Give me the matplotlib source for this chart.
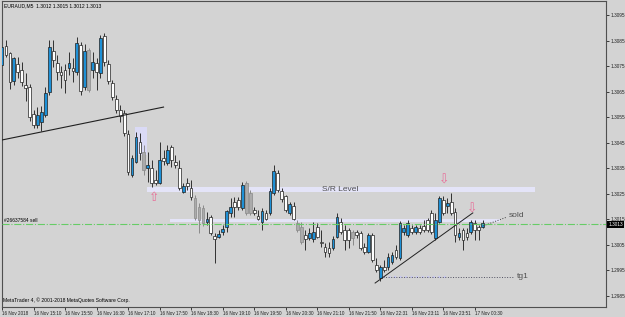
import matplotlib.pyplot as plt
import numpy as np
from matplotlib.patches import Rectangle
import matplotlib.transforms as mtransforms

plt.rcParams['font.family'] = ['Liberation Sans', 'DejaVu Sans']

# EURAUD M5 candles
opens = [1.30754, 1.30828, 1.30801, 1.30691, 1.30758, 1.30734, 1.30675, 1.30667, 1.30562, 1.30518,
         1.30530, 1.30558, 1.30648, 1.30809, 1.30762, 1.30726, 1.30734, 1.30742, 1.30742, 1.30726,
         1.30832, 1.30667, 1.30812, 1.30734, 1.30762, 1.30722, 1.30867, 1.30758, 1.30683, 1.30620,
         1.30577, 1.30566, 1.30483, 1.30322, 1.30373, 1.30452, 1.30413, 1.30350, 1.30350, 1.30303,
         1.30291, 1.30389, 1.30370, 1.30432, 1.30373, 1.30350, 1.30256, 1.30291, 1.30272, 1.30232,
         1.30197, 1.30193, 1.30138, 1.30158, 1.30083, 1.30079, 1.30099, 1.30119, 1.30174, 1.30217,
         1.30224, 1.30193, 1.30291, 1.30252, 1.30185, 1.30162, 1.30138, 1.30174, 1.30174, 1.30252,
         1.30330, 1.30260, 1.30240, 1.30174, 1.30201, 1.30134, 1.30119, 1.30087, 1.30076, 1.30072,
         1.30119, 1.30060, 1.30040, 1.30036, 1.30036, 1.30079, 1.30138, 1.30107, 1.30107, 1.30099,
         1.30099, 1.30095, 1.30040, 1.30021, 1.30087, 1.29970, 1.29919, 1.29962, 1.29962, 1.29981,
         1.30029, 1.29997, 1.30099, 1.30087, 1.30115, 1.30099, 1.30115, 1.30123, 1.30146, 1.30174,
         1.30076, 1.30138, 1.30224, 1.30201, 1.30217, 1.30177, 1.30079, 1.30107, 1.30095, 1.30099,
         1.30134, 1.30119, 1.30119]
highs = [1.30852, 1.30852, 1.30805, 1.30785, 1.30785, 1.30765, 1.30722, 1.30679, 1.30577, 1.30589,
         1.30593, 1.30667, 1.30852, 1.30852, 1.30793, 1.30750, 1.30758, 1.30805, 1.30781, 1.30863,
         1.30844, 1.30836, 1.30820, 1.30805, 1.30781, 1.30871, 1.30879, 1.30773, 1.30695, 1.30636,
         1.30597, 1.30577, 1.30499, 1.30401, 1.30491, 1.30487, 1.30440, 1.30413, 1.30381, 1.30342,
         1.30452, 1.30420, 1.30440, 1.30440, 1.30401, 1.30381, 1.30291, 1.30311, 1.30303, 1.30244,
         1.30213, 1.30205, 1.30177, 1.30166, 1.30095, 1.30107, 1.30127, 1.30185, 1.30232, 1.30236,
         1.30236, 1.30295, 1.30299, 1.30264, 1.30197, 1.30185, 1.30193, 1.30185, 1.30272, 1.30362,
         1.30342, 1.30272, 1.30244, 1.30217, 1.30217, 1.30146, 1.30138, 1.30107, 1.30115, 1.30138,
         1.30134, 1.30107, 1.30056, 1.30060, 1.30083, 1.30174, 1.30154, 1.30127, 1.30115, 1.30107,
         1.30107, 1.30103, 1.30056, 1.30095, 1.30095, 1.29997, 1.29970, 1.29989, 1.30017, 1.30021,
         1.30048, 1.30142, 1.30127, 1.30146, 1.30127, 1.30127, 1.30127, 1.30146, 1.30154, 1.30185,
         1.30174, 1.30240, 1.30240, 1.30232, 1.30252, 1.30193, 1.30115, 1.30115, 1.30115, 1.30146,
         1.30146, 1.30127, 1.30146]
lows = [1.30750, 1.30785, 1.30660, 1.30675, 1.30703, 1.30671, 1.30613, 1.30534, 1.30507, 1.30507,
        1.30495, 1.30550, 1.30636, 1.30746, 1.30695, 1.30664, 1.30644, 1.30715, 1.30687, 1.30715,
        1.30636, 1.30656, 1.30648, 1.30703, 1.30656, 1.30703, 1.30750, 1.30679, 1.30617, 1.30566,
        1.30530, 1.30475, 1.30322, 1.30315, 1.30370, 1.30381, 1.30322, 1.30295, 1.30275, 1.30283,
        1.30287, 1.30362, 1.30362, 1.30354, 1.30350, 1.30264, 1.30252, 1.30264, 1.30224, 1.30146,
        1.30095, 1.30123, 1.30127, 1.30087, 1.29978, 1.30076, 1.30087, 1.30099, 1.30158, 1.30158,
        1.30185, 1.30185, 1.30166, 1.30166, 1.30166, 1.30146, 1.30107, 1.30146, 1.30166, 1.30244,
        1.30256, 1.30217, 1.30177, 1.30166, 1.30146, 1.30099, 1.30052, 1.30029, 1.30068, 1.30060,
        1.30076, 1.30040, 1.30001, 1.30001, 1.30029, 1.30076, 1.30091, 1.30029, 1.30036, 1.30048,
        1.30076, 1.30029, 1.30013, 1.30017, 1.29981, 1.29942, 1.29907, 1.29942, 1.29950, 1.29974,
        1.29993, 1.29989, 1.30087, 1.30079, 1.30091, 1.30091, 1.30091, 1.30099, 1.30099, 1.30091,
        1.30068, 1.30134, 1.30166, 1.30174, 1.30166, 1.30060, 1.30068, 1.30029, 1.30068, 1.30091,
        1.30068, 1.30068, 1.30115]
closes = [1.30824, 1.30793, 1.30687, 1.30781, 1.30726, 1.30687, 1.30664, 1.30550, 1.30518, 1.30558,
          1.30569, 1.30644, 1.30824, 1.30773, 1.30726, 1.30715, 1.30695, 1.30762, 1.30730, 1.30840,
          1.30652, 1.30809, 1.30656, 1.30765, 1.30726, 1.30860, 1.30765, 1.30691, 1.30628, 1.30577,
          1.30554, 1.30487, 1.30334, 1.30389, 1.30471, 1.30409, 1.30342, 1.30362, 1.30291, 1.30291,
          1.30381, 1.30377, 1.30420, 1.30381, 1.30362, 1.30272, 1.30279, 1.30279, 1.30236, 1.30154,
          1.30146, 1.30134, 1.30150, 1.30095, 1.30072, 1.30091, 1.30111, 1.30181, 1.30197, 1.30197,
          1.30197, 1.30283, 1.30174, 1.30174, 1.30174, 1.30150, 1.30181, 1.30150, 1.30260, 1.30338,
          1.30264, 1.30228, 1.30185, 1.30209, 1.30150, 1.30107, 1.30060, 1.30072, 1.30095, 1.30099,
          1.30079, 1.30056, 1.30021, 1.30017, 1.30072, 1.30158, 1.30099, 1.30068, 1.30068, 1.30076,
          1.30087, 1.30036, 1.30021, 1.30087, 1.29989, 1.29950, 1.29962, 1.29950, 1.30001, 1.30009,
          1.30001, 1.30134, 1.30115, 1.30134, 1.30099, 1.30119, 1.30099, 1.30107, 1.30107, 1.30099,
          1.30146, 1.30232, 1.30174, 1.30213, 1.30174, 1.30087, 1.30095, 1.30068, 1.30079, 1.30138,
          1.30107, 1.30107, 1.30134]
gray_bars = [22, 36, 49, 50, 51, 62, 63, 75, 76, 89]

time_labels = ["16 Nov 2018", "16 Nov 15:10", "16 Nov 15:50", "16 Nov 16:30", "16 Nov 17:10",
               "16 Nov 17:50", "16 Nov 18:30", "16 Nov 19:10", "16 Nov 19:50", "16 Nov 20:30",
               "16 Nov 21:10", "16 Nov 21:50", "16 Nov 22:31", "16 Nov 23:11", "16 Nov 23:51",
               "17 Nov 00:30"]
price_ticks = [1.3095, 1.3085, 1.3075, 1.3065, 1.3055, 1.3045, 1.3035, 1.3025,
               1.3015, 1.3005, 1.2995, 1.2985]

# chart objects (bar index, price)
trend1_x = [0, 41]
trend1_y = [1.30460, 1.30589]
trend2_x = [94.7, 119.5]
trend2_y = [1.29899, 1.30174]
sold_x = [122.1, 128.2]
sold_y = [1.30123, 1.30158]
tg1_price = 1.29923
order_price = 1.30130
last_price = 1.3013

bg = '#D3D3D3'
blue = '#1E90D6'

fig = plt.figure(figsize=(6.25, 3.17), dpi=100, facecolor=bg)
ax = fig.add_axes([2/625, 10/317, 604/625, 306/317])
ax.set_facecolor(bg)

n = len(opens)
o = np.array(opens)
c = np.array(closes)
h = np.array(highs)
l = np.array(lows)

# S/R bands and box
ax.add_patch(Rectangle((36.8, 1.30256), 98.5, 0.00019, facecolor='#E4E4F8', edgecolor='none', zorder=1))
ax.add_patch(Rectangle((42.6, 1.30138), 83.8, 0.00012, facecolor='#E4E4F8', edgecolor='none', zorder=1))
ax.add_patch(Rectangle((33.8, 1.30401), 3.0, 0.0011, facecolor='#DADAF6', edgecolor='none', zorder=1))
ax.plot([96.7, 112.9], [tg1_price, tg1_price], color='#C8C8F0', lw=1.5, ls=':', zorder=1)

for i in range(n):
    if i in gray_bars:
        wc, fc, ec = '#8A8A8A', '#ABABAB', '#8A8A8A'
    elif c[i] < o[i]:
        wc, fc, ec = '#303030', 'white', '#202020'
    else:
        wc, fc, ec = '#303030', blue, '#202020'
    ax.vlines(i, l[i], h[i], color=wc, lw=0.7, zorder=2)
    bot = min(o[i], c[i])
    hgt = max(abs(c[i] - o[i]), 0.00002)
    ax.bar(i, hgt, bottom=bot, width=0.7, color=fc, edgecolor=ec, linewidth=0.5, zorder=3)

ax.plot(trend1_x, trend1_y, color='#202020', lw=0.8, zorder=4)
ax.plot(trend2_x, trend2_y, color='#202020', lw=0.7, zorder=4)
ax.plot(sold_x, sold_y, color='#404040', lw=0.7, ls=':', zorder=4)
ax.plot([96.7, 129.7], [tg1_price, tg1_price], color='#505060', lw=0.7, ls=':', zorder=4)
ax.axhline(order_price, color='#66CC66', lw=0.8, ls='-.', zorder=4)

ax.text(81.2, 1.30266, "S/R Level", fontsize=6, color='#505050', va='center', ha='left', zorder=5)
ax.text(128.7, 1.30162, "sold", fontsize=6, color='#505050', va='center', ha='left', zorder=5)
ax.text(130.7, tg1_price, "tg1", fontsize=6, color='#505050', va='center', ha='left', zorder=5)
ax.text(0.5, 1.30136, "#26637584 sell", fontsize=3.5, color='black', va='bottom', ha='left', zorder=5)

arrow_font = ['DejaVu Sans']
ax.text(38.6, 1.30236, "\u21e7", fontsize=9, color='#E8709A', ha='center', va='center', zorder=5, family=arrow_font)
ax.text(112.2, 1.30303, "\u21e9", fontsize=9, color='#E8709A', ha='center', va='center', zorder=5, family=arrow_font)
ax.text(119.3, 1.30189, "\u21e9", fontsize=9, color='#E8709A', ha='center', va='center', zorder=5, family=arrow_font)

ax.text(0.003, 0.992, "EURAUD,M5  1.3012 1.3015 1.3012 1.3013", transform=ax.transAxes,
        fontsize=3.6, color='black', va='top', ha='left')
ax.text(0.002, 0.012, "MetaTrader 4, \u00a9 2001-2018 MetaQuotes Software Corp.", transform=ax.transAxes,
        fontsize=3.6, color='black', va='bottom', ha='left')

ax.set_xlim(0, 153.3)
ax.set_ylim(1.29805, 1.31005)

ax.yaxis.tick_right()
ax.set_yticks(price_ticks)
ax.set_yticklabels([f"{p:.4f}" for p in price_ticks])
ax.tick_params(axis='y', length=2, width=0.6, pad=1.5, labelsize=3.4, colors='#202020')
ax.set_xticks(np.arange(0, 8 * len(time_labels), 8))
ax.set_xticklabels(time_labels, ha='left')
ax.tick_params(axis='x', length=2, width=0.6, pad=1, labelsize=3.3, colors='#202020')

for sp in ax.spines.values():
    sp.set_color('#505050')
    sp.set_linewidth(0.8)

trans = mtransforms.blended_transform_factory(ax.transAxes, ax.transData)
ax.text(1.004, last_price, "1.3013", transform=trans, fontsize=3.4, color='white', va='center', ha='left',
        bbox=dict(boxstyle='square,pad=0.2', facecolor='black', edgecolor='none'), clip_on=False, zorder=6)

fig.savefig('out.png', dpi=100, facecolor=bg)
